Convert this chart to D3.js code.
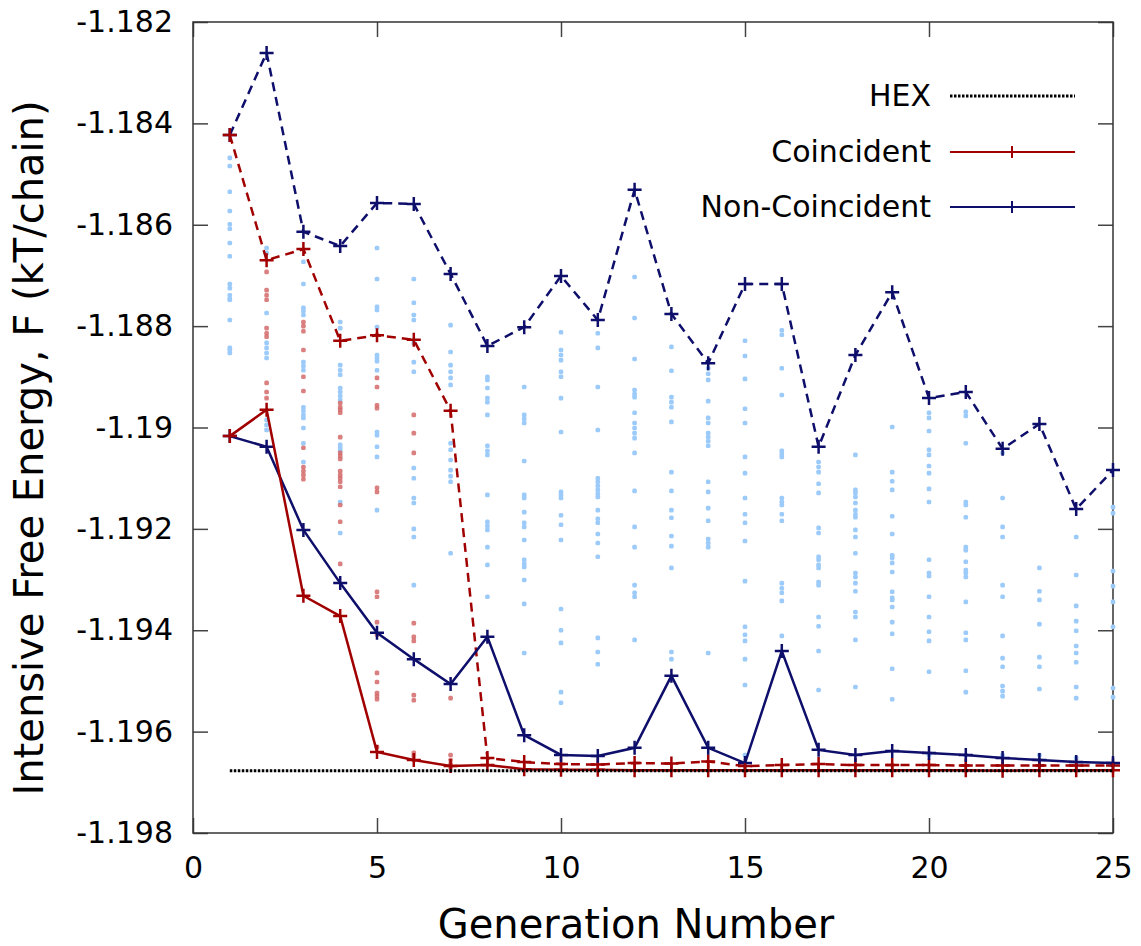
<!DOCTYPE html>
<html>
<head>
<meta charset="utf-8">
<script src="https://cdn.jsdelivr.net/npm/d3@7"></script>
<style>
  body { margin: 0; background: #fff; }
  svg { display: block; font-family: "DejaVu Sans", sans-serif; }
</style>
</head>
<body>
<script>
// ---- data ----
const gens = d3.range(1, 26);
const hexF = -1.19677;

// best (solid) and worst (dashed) per generation
const coincBest = [-1.19017, -1.18965, -1.19332, -1.19372, -1.19640, -1.19656, -1.19668, -1.19666,
  -1.19674, -1.19675, -1.19675, -1.19676, -1.19676, -1.19676, -1.19676, -1.19676, -1.19676,
  -1.19676, -1.19676, -1.19676, -1.19676, -1.19677, -1.19676, -1.19676, -1.19676];
const coincWorst = [-1.18423, -1.18670, -1.18648, -1.18829, -1.18818, -1.18827, -1.18967, -1.19652,
  -1.19660, -1.19664, -1.19665, -1.19662, -1.19663, -1.19659, -1.19668, -1.19666, -1.19664,
  -1.19666, -1.19666, -1.19666, -1.19667, -1.19667, -1.19667, -1.19667, -1.19667];
const nonCoincBest = [-1.19017, -1.19038, -1.19202, -1.19307, -1.19405, -1.19457, -1.19506, -1.19413,
  -1.19607, -1.19646, -1.19648, -1.19632, -1.19490, -1.19632, -1.19662, -1.19441, -1.19636,
  -1.19646, -1.19638, -1.19642, -1.19646, -1.19652, -1.19656, -1.19660, -1.19662];
const nonCoincWorst = [-1.18423, -1.18261, -1.18614, -1.18642, -1.18557, -1.18559, -1.18697, -1.18839,
  -1.18802, -1.18701, -1.18788, -1.18531, -1.18776, -1.18873, -1.18717, -1.18717, -1.19038,
  -1.18857, -1.18733, -1.18942, -1.18930, -1.19042, -1.18993, -1.19161, -1.19084];

// individual population members, one list per generation
const nonCoincPop = [
  [-1.18468, -1.18484, -1.18535, -1.18573, -1.18599, -1.18608, -1.18636, -1.18662, -1.18717, -1.18725, -1.18739, -1.18746, -1.18748, -1.18788, -1.18843, -1.18847, -1.18853],
  [-1.18646, -1.18656, -1.18774, -1.18833, -1.18843, -1.18853, -1.18863, -1.18985, -1.18995, -1.19005],
  [-1.18673, -1.18717, -1.18764, -1.18770, -1.18778, -1.18871, -1.18879, -1.18887, -1.18960, -1.18967, -1.18975, -1.18981, -1.19001, -1.19031, -1.19068],
  [-1.18792, -1.18804, -1.18877, -1.18887, -1.18896, -1.18922, -1.18930, -1.18938, -1.18946, -1.19034, -1.19040, -1.19046, -1.19147, -1.19208],
  [-1.18646, -1.18707, -1.18762, -1.18768, -1.18802, -1.18857, -1.18863, -1.18869, -1.18887, -1.19009, -1.19015, -1.19038, -1.19058, -1.19163],
  [-1.18707, -1.18754, -1.18778, -1.18788, -1.18833, -1.18871, -1.18890, -1.19080, -1.19100, -1.19139, -1.19149, -1.19200, -1.19216, -1.19311],
  [-1.18798, -1.18851, -1.18877, -1.18890, -1.18902, -1.18916, -1.19031, -1.19044, -1.19064, -1.19084, -1.19096, -1.19107, -1.19248],
  [-1.18900, -1.18906, -1.18922, -1.18942, -1.18950, -1.18975, -1.19036, -1.19046, -1.19054, -1.19133, -1.19186, -1.19194, -1.19202, -1.19236, -1.19271, -1.19334],
  [-1.18920, -1.18975, -1.18983, -1.18991, -1.19066, -1.19133, -1.19139, -1.19167, -1.19188, -1.19196, -1.19222, -1.19261, -1.19269, -1.19275, -1.19301, -1.19348, -1.19445],
  [-1.18812, -1.18847, -1.18857, -1.18867, -1.18890, -1.18900, -1.18942, -1.19009, -1.19127, -1.19133, -1.19139, -1.19173, -1.19192, -1.19222, -1.19358, -1.19400, -1.19425, -1.19522, -1.19543],
  [-1.18814, -1.18843, -1.18920, -1.19005, -1.19100, -1.19107, -1.19115, -1.19123, -1.19131, -1.19137, -1.19163, -1.19180, -1.19188, -1.19210, -1.19228, -1.19255, -1.19415, -1.19443, -1.19467],
  [-1.18703, -1.18784, -1.18865, -1.18926, -1.18934, -1.18940, -1.18971, -1.18991, -1.19001, -1.19011, -1.19021, -1.19050, -1.19125, -1.19196, -1.19236, -1.19311, -1.19326, -1.19334, -1.19419],
  [-1.18841, -1.18888, -1.18940, -1.18950, -1.18960, -1.18989, -1.19088, -1.19125, -1.19163, -1.19178, -1.19214, -1.19234, -1.19277, -1.19443, -1.19457],
  [-1.18883, -1.18894, -1.18906, -1.18948, -1.18981, -1.18991, -1.19011, -1.19019, -1.19027, -1.19036, -1.19107, -1.19127, -1.19159, -1.19184, -1.19220, -1.19228, -1.19236, -1.19445],
  [-1.18829, -1.18859, -1.18904, -1.18963, -1.18991, -1.19058, -1.19090, -1.19139, -1.19171, -1.19188, -1.19224, -1.19303, -1.19393, -1.19409, -1.19421, -1.19457, -1.19508, -1.19646],
  [-1.18808, -1.18817, -1.18883, -1.18936, -1.19046, -1.19052, -1.19058, -1.19139, -1.19147, -1.19153, -1.19171, -1.19184, -1.19307, -1.19317, -1.19326, -1.19342, -1.19411],
  [-1.19068, -1.19078, -1.19088, -1.19111, -1.19129, -1.19198, -1.19208, -1.19255, -1.19261, -1.19271, -1.19277, -1.19305, -1.19311, -1.19374, -1.19392, -1.19441, -1.19518],
  [-1.19054, -1.19123, -1.19129, -1.19137, -1.19149, -1.19163, -1.19171, -1.19177, -1.19202, -1.19216, -1.19248, -1.19287, -1.19295, -1.19307, -1.19323, -1.19364, -1.19374, -1.19419, -1.19512],
  [-1.18999, -1.19088, -1.19106, -1.19123, -1.19175, -1.19210, -1.19252, -1.19257, -1.19267, -1.19285, -1.19324, -1.19336, -1.19340, -1.19354, -1.19384, -1.19407, -1.19476, -1.19536],
  [-1.18971, -1.18981, -1.19007, -1.19044, -1.19054, -1.19076, -1.19090, -1.19121, -1.19147, -1.19261, -1.19287, -1.19293, -1.19334, -1.19374, -1.19403, -1.19421, -1.19482, -1.19646],
  [-1.18969, -1.18977, -1.19031, -1.19147, -1.19153, -1.19177, -1.19236, -1.19242, -1.19265, -1.19281, -1.19287, -1.19295, -1.19344, -1.19405, -1.19419, -1.19480, -1.19522, -1.19646],
  [-1.19050, -1.19139, -1.19196, -1.19216, -1.19311, -1.19334, -1.19411, -1.19455, -1.19472, -1.19510, -1.19520, -1.19530, -1.19646],
  [-1.19277, -1.19323, -1.19340, -1.19388, -1.19453, -1.19472, -1.19516, -1.19646],
  [-1.19216, -1.19291, -1.19352, -1.19382, -1.19401, -1.19431, -1.19445, -1.19463, -1.19512, -1.19534, -1.19652],
  [-1.19157, -1.19169, -1.19283, -1.19313, -1.19344, -1.19393, -1.19514, -1.19532]
];
const coincPop = [
  [],
  [-1.18693, -1.18729, -1.18739, -1.18748, -1.18804, -1.18814, -1.18821, -1.18912, -1.18930, -1.18942],
  [-1.18792, -1.18800, -1.18810, -1.18847, -1.18900, -1.18928, -1.19040, -1.19078, -1.19086, -1.19094, -1.19102],
  [-1.18952, -1.18960, -1.18965, -1.18971, -1.19019, -1.19050, -1.19056, -1.19062, -1.19086, -1.19094, -1.19100, -1.19107, -1.19117, -1.19153, -1.19186, -1.19269],
  [-1.18817, -1.18902, -1.18920, -1.18956, -1.18962, -1.19119, -1.19127, -1.19324, -1.19334, -1.19384, -1.19409, -1.19484, -1.19502, -1.19524, -1.19530, -1.19536, -1.19630],
  [-1.18975, -1.19011, -1.19050, -1.19386, -1.19413, -1.19421, -1.19528, -1.19538, -1.19642, -1.19648, -1.19656],
  [-1.19534, -1.19646, -1.19656, -1.19664, -1.19670]
];

const yTicks = [-1.182, -1.184, -1.186, -1.188, -1.19, -1.192, -1.194, -1.196, -1.198];
const xTicks = [0, 5, 10, 15, 20, 25];

// ---- layout ----
const W = 1141, H = 946;
const m = {left: 193, right: 28, top: 22, bottom: 113};
const iw = W - m.left - m.right, ih = H - m.top - m.bottom;

const navy = "#0e0e6b", red = "#a00000";

const svg = d3.select("body").append("svg").attr("width", W).attr("height", H);
const g = svg.append("g").attr("transform", `translate(${m.left},${m.top})`);

const x = d3.scaleLinear().domain([0, 25]).range([0, iw]);
const y = d3.scaleLinear().domain([-1.198, -1.182]).range([ih, 0]);

const fmt = v => String(+v.toFixed(3));

// axes, ticks pointing inward
const axL = g.append("g").call(d3.axisLeft(y).tickValues(yTicks).tickFormat(fmt).tickSize(-15).tickPadding(20));
const axR = g.append("g").attr("transform", `translate(${iw},0)`).call(d3.axisRight(y).tickValues(yTicks).tickFormat("").tickSize(-15));
const axB = g.append("g").attr("transform", `translate(0,${ih})`).call(d3.axisBottom(x).tickValues(xTicks).tickSize(-15).tickPadding(24));
const axT = g.append("g").call(d3.axisTop(x).tickValues(xTicks).tickFormat("").tickSize(-15));
[axL, axR, axB, axT].forEach(a => {
  a.select(".domain").remove();
  a.selectAll("line").attr("stroke", "#444").attr("stroke-width", 1.5);
  a.selectAll("text").attr("font-size", 30).attr("fill", "#000").attr("font-family", "DejaVu Sans");
});
g.append("rect").attr("width", iw).attr("height", ih)
  .attr("fill", "none").attr("stroke", "#333").attr("stroke-width", 1.5);

// population scatter
const pts = (pop) => pop.flatMap((vals, i) => vals.map(v => ({g: gens[i], v})));
g.append("g").selectAll("rect").data(pts(nonCoincPop)).join("rect")
  .attr("x", d => x(d.g) - 2.3).attr("y", d => y(d.v) - 2.3)
  .attr("width", 4.6).attr("height", 4.6).attr("rx", 1.5)
  .attr("fill", "#9ccbfa");
g.append("g").selectAll("rect").data(pts(coincPop)).join("rect")
  .attr("x", d => x(d.g) - 2.3).attr("y", d => y(d.v) - 2.3)
  .attr("width", 4.6).attr("height", 4.6).attr("rx", 1.5)
  .attr("fill", "#d46a6a").attr("opacity", 0.85);

// lines
const line = d3.line().x((d, i) => x(gens[i])).y(d => y(d));
function series(vals, color, dashed) {
  g.append("path").datum(vals).attr("d", line)
    .attr("fill", "none").attr("stroke", color).attr("stroke-width", 2.5)
    .attr("stroke-dasharray", dashed ? "9,6" : null);
  g.append("g").selectAll("path").data(vals).join("path")
    .attr("d", (d, i) => `M${x(gens[i]) - 7},${y(d)}h14M${x(gens[i])},${y(d) - 7}v14`)
    .attr("stroke", color).attr("stroke-width", 2.5);
}
series(nonCoincWorst, navy, true);
series(coincWorst, red, true);
series(nonCoincBest, navy, false);
series(coincBest, red, false);

// HEX reference
g.append("line").attr("x1", x(1)).attr("x2", x(25)).attr("y1", y(hexF)).attr("y2", y(hexF))
  .attr("stroke", "#000").attr("stroke-width", 3).attr("stroke-dasharray", "2.5,1.5");

// legend
const legend = [
  {label: "HEX", color: "#000", dots: true, yy: 96},
  {label: "Coincident", color: red, dots: false, yy: 152},
  {label: "Non-Coincident", color: navy, dots: false, yy: 207}
];
const lg = svg.append("g");
legend.forEach(l => {
  lg.append("text").attr("x", 931).attr("y", l.yy + 10).attr("text-anchor", "end")
    .attr("font-size", 30).text(l.label);
  lg.append("line").attr("x1", 950).attr("x2", 1075).attr("y1", l.yy).attr("y2", l.yy)
    .attr("stroke", l.color).attr("stroke-width", l.dots ? 3 : 2)
    .attr("stroke-dasharray", l.dots ? "2.5,1.5" : null);
  if (!l.dots) {
    lg.append("path").attr("d", `M1006,${l.yy}h12M1012,${l.yy - 6}v12`)
      .attr("stroke", l.color).attr("stroke-width", 2);
  }
});

// axis titles
svg.append("text").attr("x", 636).attr("y", 938).attr("text-anchor", "middle")
  .attr("font-size", 40).text("Generation Number");
svg.append("text").attr("transform", `translate(43,448) rotate(-90)`)
  .attr("text-anchor", "middle").attr("font-size", 40).text("Intensive Free Energy, F (kT/chain)");
</script>
</body>
</html>
